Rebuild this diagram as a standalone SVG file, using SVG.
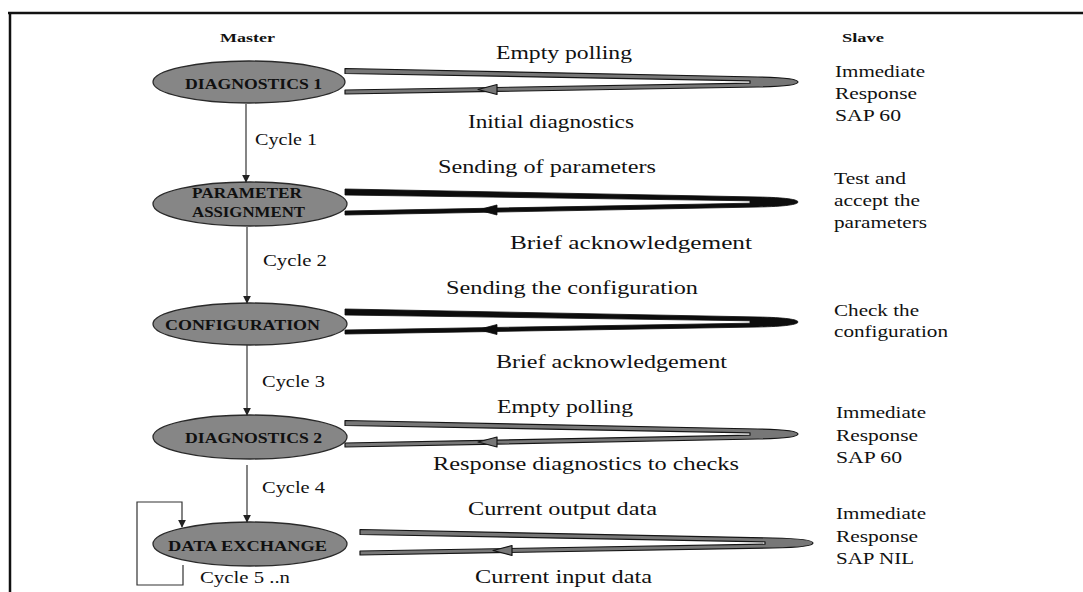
<svg xmlns="http://www.w3.org/2000/svg" width="1083" height="592" viewBox="0 0 1083 592">
  <style>
    .frame { stroke: #111; stroke-width: 2.5; fill: none; }
    .state { fill: #868686; stroke: #2a2a2a; stroke-width: 1.3; }
    .slabel { font-family: "Liberation Serif", "Times New Roman", serif; font-weight: bold; font-size: 14.5px; fill: #101010; text-anchor: start; }
    .head { font-family: "Liberation Serif", "Times New Roman", serif; font-weight: bold; font-size: 13.5px; fill: #111; }
    .msg { font-family: "Liberation Serif", "Times New Roman", serif; font-size: 18px; fill: #111; }
    .side { font-family: "Liberation Serif", "Times New Roman", serif; font-size: 16.5px; fill: #111; }
    .cyc { font-family: "Liberation Serif", "Times New Roman", serif; font-size: 16px; fill: #111; }
    .flow { stroke: #333; stroke-width: 1.2; fill: none; }
    .pin-grey { fill: #777; stroke: #151515; stroke-width: 1.2; stroke-linejoin: round; }
    .pin-black { fill: #0d0d0d; stroke: #0d0d0d; stroke-width: 0.8; stroke-linejoin: round; }
  </style>
  <defs>
    <marker id="tip" viewBox="0 0 10 10" refX="9" refY="5" markerWidth="8" markerHeight="8" markerUnits="userSpaceOnUse" orient="auto">
      <path d="M0,0 L10,5 L0,10 Z" fill="#222"/>
    </marker>
  </defs>

  <!-- page frame: top and left rules -->
  <g id="frame">
    <line class="frame" x1="8" y1="13" x2="1083" y2="13"/>
    <line class="frame" x1="10" y1="12" x2="10" y2="592"/>
  </g>

  <!-- column headings -->
  <text class="head" x="220" y="42" textLength="55" lengthAdjust="spacingAndGlyphs">Master</text>
  <text class="head" x="842" y="42" textLength="42" lengthAdjust="spacingAndGlyphs">Slave</text>

  <!-- master states -->
  <g id="diag1">
    <ellipse class="state" cx="249" cy="82" rx="96" ry="21"/>
    <text class="slabel" x="185" y="89" textLength="137" lengthAdjust="spacingAndGlyphs">DIAGNOSTICS 1</text>
  </g>
  <g id="param">
    <ellipse class="state" cx="250" cy="204" rx="97" ry="22"/>
    <text class="slabel" x="192" y="198" textLength="110" lengthAdjust="spacingAndGlyphs">PARAMETER</text>
    <text class="slabel" x="192" y="217" textLength="113" lengthAdjust="spacingAndGlyphs">ASSIGNMENT</text>
  </g>
  <g id="config">
    <ellipse class="state" cx="250" cy="324" rx="97" ry="21"/>
    <text class="slabel" x="165" y="330" textLength="155" lengthAdjust="spacingAndGlyphs">CONFIGURATION</text>
  </g>
  <g id="diag2">
    <ellipse class="state" cx="250" cy="437" rx="97" ry="22"/>
    <text class="slabel" x="185" y="443" textLength="137" lengthAdjust="spacingAndGlyphs">DIAGNOSTICS 2</text>
  </g>
  <g id="dataex">
    <ellipse class="state" cx="250" cy="544" rx="97" ry="22"/>
    <text class="slabel" x="168" y="551" textLength="159" lengthAdjust="spacingAndGlyphs">DATA EXCHANGE</text>
  </g>

  <!-- transitions between states and the message exchanges with the slave -->
  <g id="connectors">
    <line class="flow" x1="246" y1="104" x2="246" y2="182" marker-end="url(#tip)"/>
    <line class="flow" x1="247" y1="227" x2="247" y2="303" marker-end="url(#tip)"/>
    <line class="flow" x1="247" y1="345" x2="247" y2="415" marker-end="url(#tip)"/>
    <line class="flow" x1="247" y1="465" x2="247" y2="522" marker-end="url(#tip)"/>
    <path class="flow" d="M183,565 L183,585 L137,585 L137,502 L182,502 L182,527" marker-end="url(#tip)"/>

    <!-- request / response hairpins -->
    <path class="pin-grey" d="M345,68.5 L758,77 C785,77.5 798,79.5 798,82 C798,84.5 785,86.5 758,87 L345,94 L345,90 L750,83.2 L750,80.8 L345,73.5 Z"/>
    <path class="pin-grey" d="M478,89.5 L497,84.5 L497,94.5 Z"/>

    <path class="pin-black" d="M345,189 L758,197 C785,197.5 798,199.5 798,202 C798,204.5 785,206.5 758,207 L345,215 L345,211 L750,203.2 L750,200.8 L345,195 Z"/>
    <path class="pin-black" d="M478,210 L497,205 L497,215 Z"/>

    <path class="pin-black" d="M345,309 L758,317 C785,317.5 798,319.5 798,322 C798,324.5 785,326.5 758,327 L345,334 L345,330 L750,323.2 L750,320.8 L345,315 Z"/>
    <path class="pin-black" d="M478,329.5 L497,324.5 L497,334.5 Z"/>

    <path class="pin-grey" d="M345,420.5 L758,429 C785,429.5 798,431.5 798,434 C798,436.5 785,438.5 758,439 L345,447 L345,443 L750,435.2 L750,432.8 L345,425.5 Z"/>
    <path class="pin-grey" d="M478,442 L497,437 L497,447 Z"/>

    <path class="pin-grey" d="M360,529.5 L773,538 C800,538.5 813,540.5 813,543 C813,545.5 800,547.5 773,548 L360,555 L360,551 L765,544.2 L765,541.8 L360,534.5 Z"/>
    <path class="pin-grey" d="M493,550.5 L512,545.5 L512,555.5 Z"/>
  </g>

  <!-- message labels -->
  <text class="msg" x="496" y="59" textLength="136" lengthAdjust="spacingAndGlyphs">Empty polling</text>
  <text class="msg" x="468" y="128" textLength="166" lengthAdjust="spacingAndGlyphs">Initial diagnostics</text>
  <text class="msg" x="438" y="173" textLength="218" lengthAdjust="spacingAndGlyphs">Sending of parameters</text>
  <text class="msg" x="510" y="249" textLength="242" lengthAdjust="spacingAndGlyphs">Brief acknowledgement</text>
  <text class="msg" x="446" y="294" textLength="252" lengthAdjust="spacingAndGlyphs">Sending the configuration</text>
  <text class="msg" x="496" y="368" textLength="231" lengthAdjust="spacingAndGlyphs">Brief acknowledgement</text>
  <text class="msg" x="497" y="413" textLength="136" lengthAdjust="spacingAndGlyphs">Empty polling</text>
  <text class="msg" x="433" y="470" textLength="306" lengthAdjust="spacingAndGlyphs">Response diagnostics to checks</text>
  <text class="msg" x="468" y="515" textLength="189" lengthAdjust="spacingAndGlyphs">Current output data</text>
  <text class="msg" x="475" y="583" textLength="177" lengthAdjust="spacingAndGlyphs">Current input data</text>

  <!-- cycle labels -->
  <text class="cyc" x="255" y="145" textLength="62" lengthAdjust="spacingAndGlyphs">Cycle 1</text>
  <text class="cyc" x="263" y="266" textLength="64" lengthAdjust="spacingAndGlyphs">Cycle 2</text>
  <text class="cyc" x="262" y="387" textLength="63" lengthAdjust="spacingAndGlyphs">Cycle 3</text>
  <text class="cyc" x="262" y="493" textLength="63" lengthAdjust="spacingAndGlyphs">Cycle 4</text>
  <text class="cyc" x="200" y="583" textLength="90" lengthAdjust="spacingAndGlyphs">Cycle 5 ..n</text>

  <!-- slave reactions -->
  <text class="side" x="835" y="77" textLength="90" lengthAdjust="spacingAndGlyphs">Immediate</text>
  <text class="side" x="835" y="99" textLength="82" lengthAdjust="spacingAndGlyphs">Response</text>
  <text class="side" x="835" y="121" textLength="66" lengthAdjust="spacingAndGlyphs">SAP 60</text>

  <text class="side" x="834" y="184" textLength="72" lengthAdjust="spacingAndGlyphs">Test and</text>
  <text class="side" x="834" y="206" textLength="86" lengthAdjust="spacingAndGlyphs">accept the</text>
  <text class="side" x="834" y="228" textLength="93" lengthAdjust="spacingAndGlyphs">parameters</text>

  <text class="side" x="834" y="316" textLength="85" lengthAdjust="spacingAndGlyphs">Check the</text>
  <text class="side" x="834" y="337" textLength="114" lengthAdjust="spacingAndGlyphs">configuration</text>

  <text class="side" x="836" y="418" textLength="90" lengthAdjust="spacingAndGlyphs">Immediate</text>
  <text class="side" x="836" y="441" textLength="82" lengthAdjust="spacingAndGlyphs">Response</text>
  <text class="side" x="836" y="463" textLength="66" lengthAdjust="spacingAndGlyphs">SAP 60</text>

  <text class="side" x="836" y="519" textLength="90" lengthAdjust="spacingAndGlyphs">Immediate</text>
  <text class="side" x="836" y="542" textLength="82" lengthAdjust="spacingAndGlyphs">Response</text>
  <text class="side" x="836" y="564" textLength="78" lengthAdjust="spacingAndGlyphs">SAP NIL</text>
</svg>
